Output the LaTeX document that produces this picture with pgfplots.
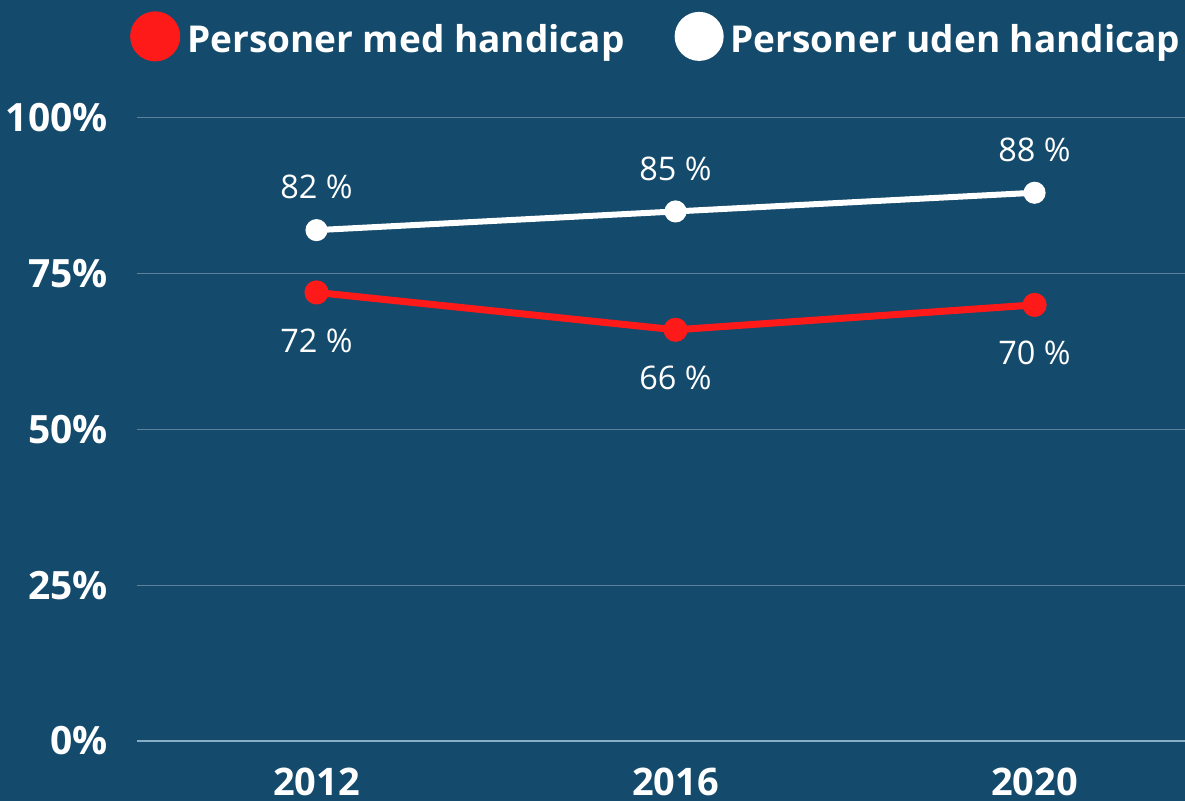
\documentclass[border=0pt]{standalone}
\usepackage{fontspec}
\setmainfont{Open Sans}
\usepackage{pgfplots}
\pgfplotsset{compat=1.18}
\definecolor{bg}{HTML}{144A6B}
\definecolor{myred}{HTML}{FF1A1A}
\definecolor{gridc}{HTML}{5E819B}
\definecolor{zeroc}{HTML}{86AEC6}
\begin{document}
\begin{tikzpicture}
\useasboundingbox (0pt,0pt) rectangle (1185pt,801pt);
\clip (0pt,0pt) rectangle (1185pt,801pt);
\fill[bg] (0pt,0pt) rectangle (1185pt,801pt);
\begin{axis}[
  at={(137pt,60pt)}, anchor=south west,
  width=1048pt, height=623pt, scale only axis,
  xmin=-0.5, xmax=2.419, ymin=0, ymax=100,
  axis line style={draw=none},
  major tick length=0pt,
  xtick={0,1,2}, xticklabels={2012,2016,2020},
  ytick={25,50,75,100}, yticklabels={25\%,50\%,75\%,100\%},
  extra y ticks={0}, extra y tick labels={0\%},
  extra y tick style={grid style={draw=zeroc, line width=1.2pt}},
  ymajorgrids, grid style={draw=gridc, line width=1pt},
  xticklabel style={font=\bfseries\fontsize{38}{38}\selectfont, text=white, anchor=north, inner sep=0pt, yshift=-27pt},
  yticklabel style={font=\bfseries\fontsize{39}{39}\selectfont, text=white, anchor=east, inner sep=0pt, xshift=-29pt},
  legend columns=2,
  legend style={at={(-0.0067,1.131)}, anchor=west, draw=none, fill=none, text=white,
    font=\bfseries\fontsize{37}{37}\selectfont, inner sep=0pt,
    nodes={inner sep=0pt},
    /tikz/every odd column/.append style={column sep=7pt},
    /tikz/every even column/.append style={column sep=50pt}},
  legend cell align=left,
  point meta=explicit symbolic,
  nodes near coords={\pgfplotspointmeta\ \%},
  every node near coord/.append style={font=\fontsize{32.5}{32.5}\selectfont, text=white, anchor=center},
  clip=false,
]
\addplot[myred, line width=7pt, mark=*, mark size=8.5pt, mark options={fill=myred, draw=none},
  every node near coord/.append style={yshift=-48pt},
  legend image code/.code={\fill[myred] (21pt,2.5pt) circle (21.5pt);}]
  coordinates {(0,72) [72] (1,66) [66] (2,70) [70]};
\addlegendentry{Personer med handicap}
\addplot[white, line width=6pt, mark=*, mark size=8pt, mark options={fill=white, draw=none},
  every node near coord/.append style={yshift=43pt},
  legend image code/.code={\fill[white] (21pt,2.5pt) circle (21.5pt);}]
  coordinates {(0,82) [82] (1,85) [85] (2,88) [88]};
\addlegendentry{Personer uden handicap}
\end{axis}
\end{tikzpicture}
\end{document}
